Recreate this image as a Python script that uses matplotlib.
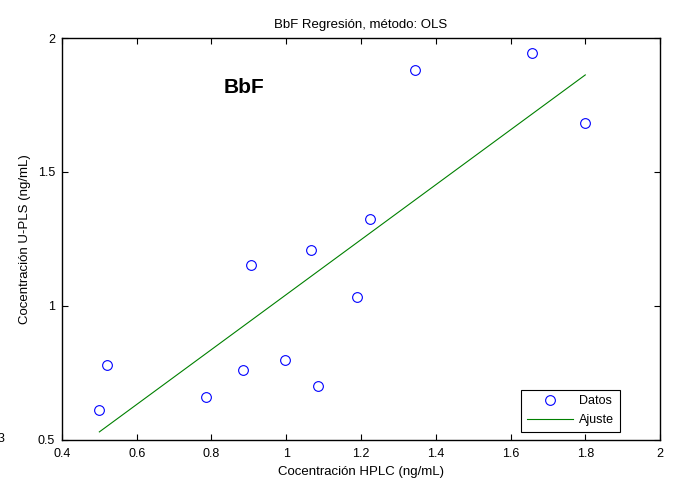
import numpy as np
import matplotlib.pyplot as plt

plt.rcParams['font.family'] = ['Liberation Sans', 'DejaVu Sans']

# concentration pairs: HPLC reference vs U-PLS prediction (ng/mL)
hplc = [0.50, 0.52, 0.785, 0.885, 0.905, 0.997, 1.065, 1.085, 1.19, 1.225, 1.345, 1.658, 1.80]
upls = [0.61, 0.78, 0.66, 0.76, 1.153, 0.80, 1.21, 0.70, 1.033, 1.323, 1.881, 1.943, 1.683]

xticks = [0.4, 0.6, 0.8, 1, 1.2, 1.4, 1.6, 1.8, 2]
yticks = [0.5, 1, 1.5, 2]

# ordinary least squares line
slope, intercept = np.polyfit(hplc, upls, 1)
xfit = np.array([min(hplc), max(hplc)])
yfit = slope * xfit + intercept

fig = plt.figure(figsize=(6.78, 4.86), dpi=100)
ax = fig.add_axes([0.0914, 0.0947, 0.8821, 0.8271])

ax.plot(hplc, upls, 'o', markerfacecolor='none', markeredgecolor='blue',
        markersize=7, markeredgewidth=0.8, label='Datos')
ax.plot(xfit, yfit, '-', color='green', linewidth=0.8, label='Ajuste')

ax.set_xlim(0.4, 2)
ax.set_ylim(0.5, 2)
ax.set_xticks(xticks)
ax.set_yticks(yticks)
ax.set_xticklabels(['0.4', '0.6', '0.8', '1', '1.2', '1.4', '1.6', '1.8', '2'])
ax.set_yticklabels(['0.5', '1', '1.5', '2'])
ax.tick_params(direction='in', top=True, right=True, length=4, width=0.8,
               labelsize=9)
ax.tick_params(axis='x', pad=6)
ax.tick_params(axis='y', pad=5)
for sp in ax.spines.values():
    sp.set_linewidth(1.0)

ax.set_title('BbF Regresión, método: OLS', fontsize=9.5, pad=7)
ax.set_xlabel('Cocentración HPLC (ng/mL)', fontsize=9.5, labelpad=4)
ax.set_ylabel('Cocentración U-PLS (ng/mL)', fontsize=9.5, labelpad=5)

ax.text(0.833, 1.817, 'BbF', fontsize=15, fontweight='bold',
        family=['Liberation Sans', 'DejaVu Sans'], va='center', ha='left')

leg = ax.legend(loc='lower right', bbox_to_anchor=(0.933, 0.02), borderaxespad=0,
                fontsize=9, fancybox=False, edgecolor='black', framealpha=1,
                handlelength=3.7, handletextpad=0.5, borderpad=0.45,
                labelspacing=0.55)
leg.get_frame().set_linewidth(0.8)

fig.text(-0.004, 0.097, '3', fontsize=9, va='center', ha='left')

fig.savefig('out.png', dpi=100)
